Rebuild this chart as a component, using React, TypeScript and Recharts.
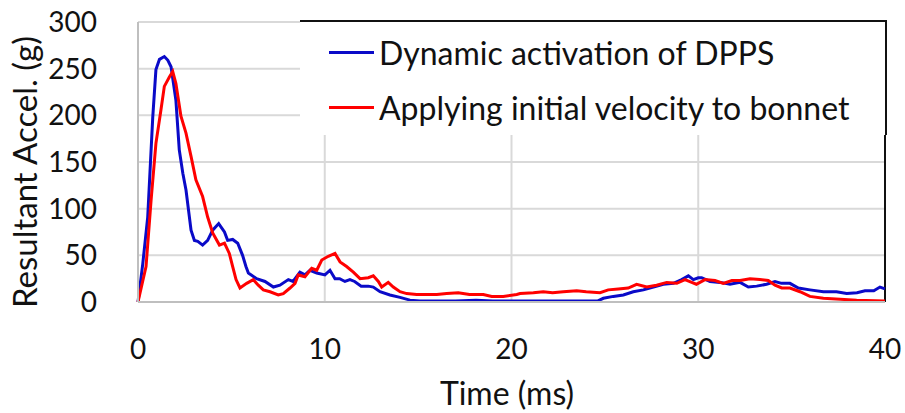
import React from 'react';
import { LineChart, Line, XAxis, YAxis, CartesianGrid, ReferenceLine } from 'recharts';

// time (ms) and resultant acceleration (g)
const dppsTime = [
  0, 0.25, 0.52, 0.79, 0.96, 1.15, 1.41, 1.6, 1.77, 2.03, 2.21, 2.4, 2.57, 2.84, 3.02, 3.2, 3.46, 3.73, 4.0, 4.32,
  4.63, 4.8, 5.07, 5.34, 5.6, 5.78, 5.91, 6.35, 6.8, 7.25, 7.6, 8.05, 8.3, 8.67, 8.94, 9.21, 9.57, 10.01, 10.28,
  10.55, 10.8, 11.08, 11.35, 11.6, 11.95, 12.33, 12.6, 12.96, 13.49, 14.03, 14.56, 15.1, 16, 17, 18.1, 19, 20, 21,
  22, 23.5, 24.6, 24.92, 25.45, 25.99, 26.52, 27.06, 27.6, 28.13, 28.67, 29.11, 29.47, 29.74, 30.0, 30.18, 30.63,
  31.17, 31.7, 32.24, 32.68, 33.13, 33.66, 34.11, 34.46, 34.91, 35.36, 35.98, 36.7, 37.4, 37.95, 38.5, 38.93, 39.4,
  39.73, 40,
];
const dppsAccel = [
  0, 40, 91, 198, 249, 260, 263, 259, 252, 216, 163, 138, 120, 77, 66, 65, 61, 66, 77, 84,
  75, 66, 67, 63, 50, 38, 31, 25, 22, 16, 18, 24, 22, 32, 29, 34, 31, 29, 34,
  25, 25, 22, 24, 22, 17, 17, 16, 11, 7.5, 5, 2, 1, 1, 1, 2, 1, 1, 1,
  1, 1, 1, 4, 6, 7.5, 11, 13, 16, 19, 20, 24, 28, 24, 26, 26, 22,
  21, 19, 21, 16, 17, 19, 22, 20, 20, 15, 13, 11, 11, 9, 10, 12, 12,
  16, 14,
];

const bonnetTime = [
  0, 0.43, 0.7, 0.96, 1.23, 1.41, 1.68, 1.86, 2.03, 2.3, 2.57, 2.84, 3.1, 3.46, 3.73, 4.0, 4.36, 4.63, 4.89, 5.07,
  5.25, 5.46, 5.82, 6.17, 6.44, 6.71, 7.07, 7.51, 7.78, 8.14, 8.41, 8.58, 8.94, 9.3, 9.57, 9.84, 10.19, 10.55,
  10.82, 11.17, 11.53, 11.89, 12.33, 12.6, 12.87, 13.05, 13.4, 13.67, 14.03, 14.39, 14.92, 15.5, 16, 16.53, 17.15,
  17.75, 18.49, 18.94, 19.56, 20.28, 20.46, 21.17, 21.7, 22.2, 22.77, 23.49, 24.0, 24.74, 25.18, 25.72, 26.25,
  26.7, 27.24, 27.77, 28.31, 28.85, 29.29, 29.65, 29.9, 30.36, 30.9, 31.34, 31.8, 32.24, 32.77, 33.3, 33.75,
  34.11, 34.47, 34.91, 35.45, 35.98, 36.7, 37.6, 38.48, 40,
];
const bonnetAccel = [
  0, 38, 109, 170, 206, 231, 241, 247, 234, 199, 181, 156, 131, 113, 91, 74, 61, 63, 52, 38,
  24, 15, 20, 24, 18, 13, 11, 7.5, 9, 15, 20, 29, 27, 36, 34, 45, 49, 52,
  43, 38, 32, 25, 26, 28, 22, 16, 21, 16, 11, 9, 8, 8, 8, 9, 10,
  8, 8, 6, 6, 8, 9, 10, 11, 10, 11, 12, 11, 10, 13, 14, 15,
  19, 16, 18, 21, 20, 24, 21, 19, 24, 23, 20, 23, 23, 25, 24, 23,
  18, 15, 15, 11, 6, 4, 3, 2, 1,
];

const xTicks = [0, 10, 20, 30, 40];
const yTicks = [0, 50, 100, 150, 200, 250, 300];

const seriesNames = ['Dynamic activation of DPPS', 'Applying initial velocity to bonnet'];
const seriesColors = ['#0a0ac8', '#ff0000'];

const dppsData = dppsTime.map((t, i) => ({ t, a: dppsAccel[i] }));
const bonnetData = bonnetTime.map((t, i) => ({ t, a: bonnetAccel[i] }));

const FONT = 'Lato, "Open Sans", sans-serif';

// legend sits in a white box over the top-right of the plot, like the source figure
const LegendBox = () => (
  <div
    style={{
      position: 'absolute',
      left: 300,
      top: 20,
      width: 587,
      height: 115,
      background: '#fff',
      borderTop: '2px solid #111',
      borderRight: '2px solid #111',
      boxSizing: 'border-box',
      paddingTop: 3,
      paddingLeft: 29,
      fontFamily: FONT,
      fontSize: 32,
      color: '#111',
    }}
  >
    {seriesNames.map((name, i) => (
      <div key={name} style={{ display: 'flex', alignItems: 'center', height: 55, whiteSpace: 'nowrap' }}>
        <span style={{ display: 'inline-block', width: 45, height: 3, background: seriesColors[i], marginRight: 5 }} />
        <span>{name}</span>
      </div>
    ))}
  </div>
);

export default function App() {
  return (
    <div style={{ position: 'absolute', left: 0, top: 0, width: 905, height: 413, background: '#fff' }}>
      <LineChart width={905} height={413} margin={{ top: 22, right: 20, left: 0, bottom: 0 }}>
        <CartesianGrid stroke="#d9d9d9" strokeWidth={2} />
        <XAxis
          type="number"
          dataKey="t"
          domain={[0, 40]}
          ticks={xTicks}
          allowDuplicatedCategory={false}
          height={111}
          stroke="#bfbfbf"
          strokeWidth={2}
          tickLine={false}
          tickMargin={31}
          tick={{ fill: '#111', fontSize: 28, fontFamily: FONT }}
          label={{
            content: () => (
              <text x={507} y={392} textAnchor="middle" dominantBaseline="central" fill="#111" fontSize={32} fontFamily={FONT}>
                Time (ms)
              </text>
            ),
          }}
        />
        <YAxis
          type="number"
          domain={[0, 300]}
          ticks={yTicks}
          width={138}
          stroke="#bfbfbf"
          strokeWidth={2}
          tickLine={false}
          tickMargin={35}
          tick={{ fill: '#111', fontSize: 28, fontFamily: FONT }}
          label={{
            content: () => (
              <text
                x={24}
                y={172}
                transform="rotate(-90 24 172)"
                textAnchor="middle"
                dominantBaseline="central"
                fill="#111"
                fontSize={33}
                fontFamily={FONT}
              >
                Resultant Accel. (g)
              </text>
            ),
          }}
        />
        <ReferenceLine x={40} stroke="#111" strokeWidth={2} />
        <Line
          data={dppsData}
          dataKey="a"
          name={seriesNames[0]}
          type="linear"
          stroke={seriesColors[0]}
          strokeWidth={3}
          dot={false}
          isAnimationActive={false}
        />
        <Line
          data={bonnetData}
          dataKey="a"
          name={seriesNames[1]}
          type="linear"
          stroke={seriesColors[1]}
          strokeWidth={3}
          dot={false}
          isAnimationActive={false}
        />
      </LineChart>
      <LegendBox />
    </div>
  );
}
